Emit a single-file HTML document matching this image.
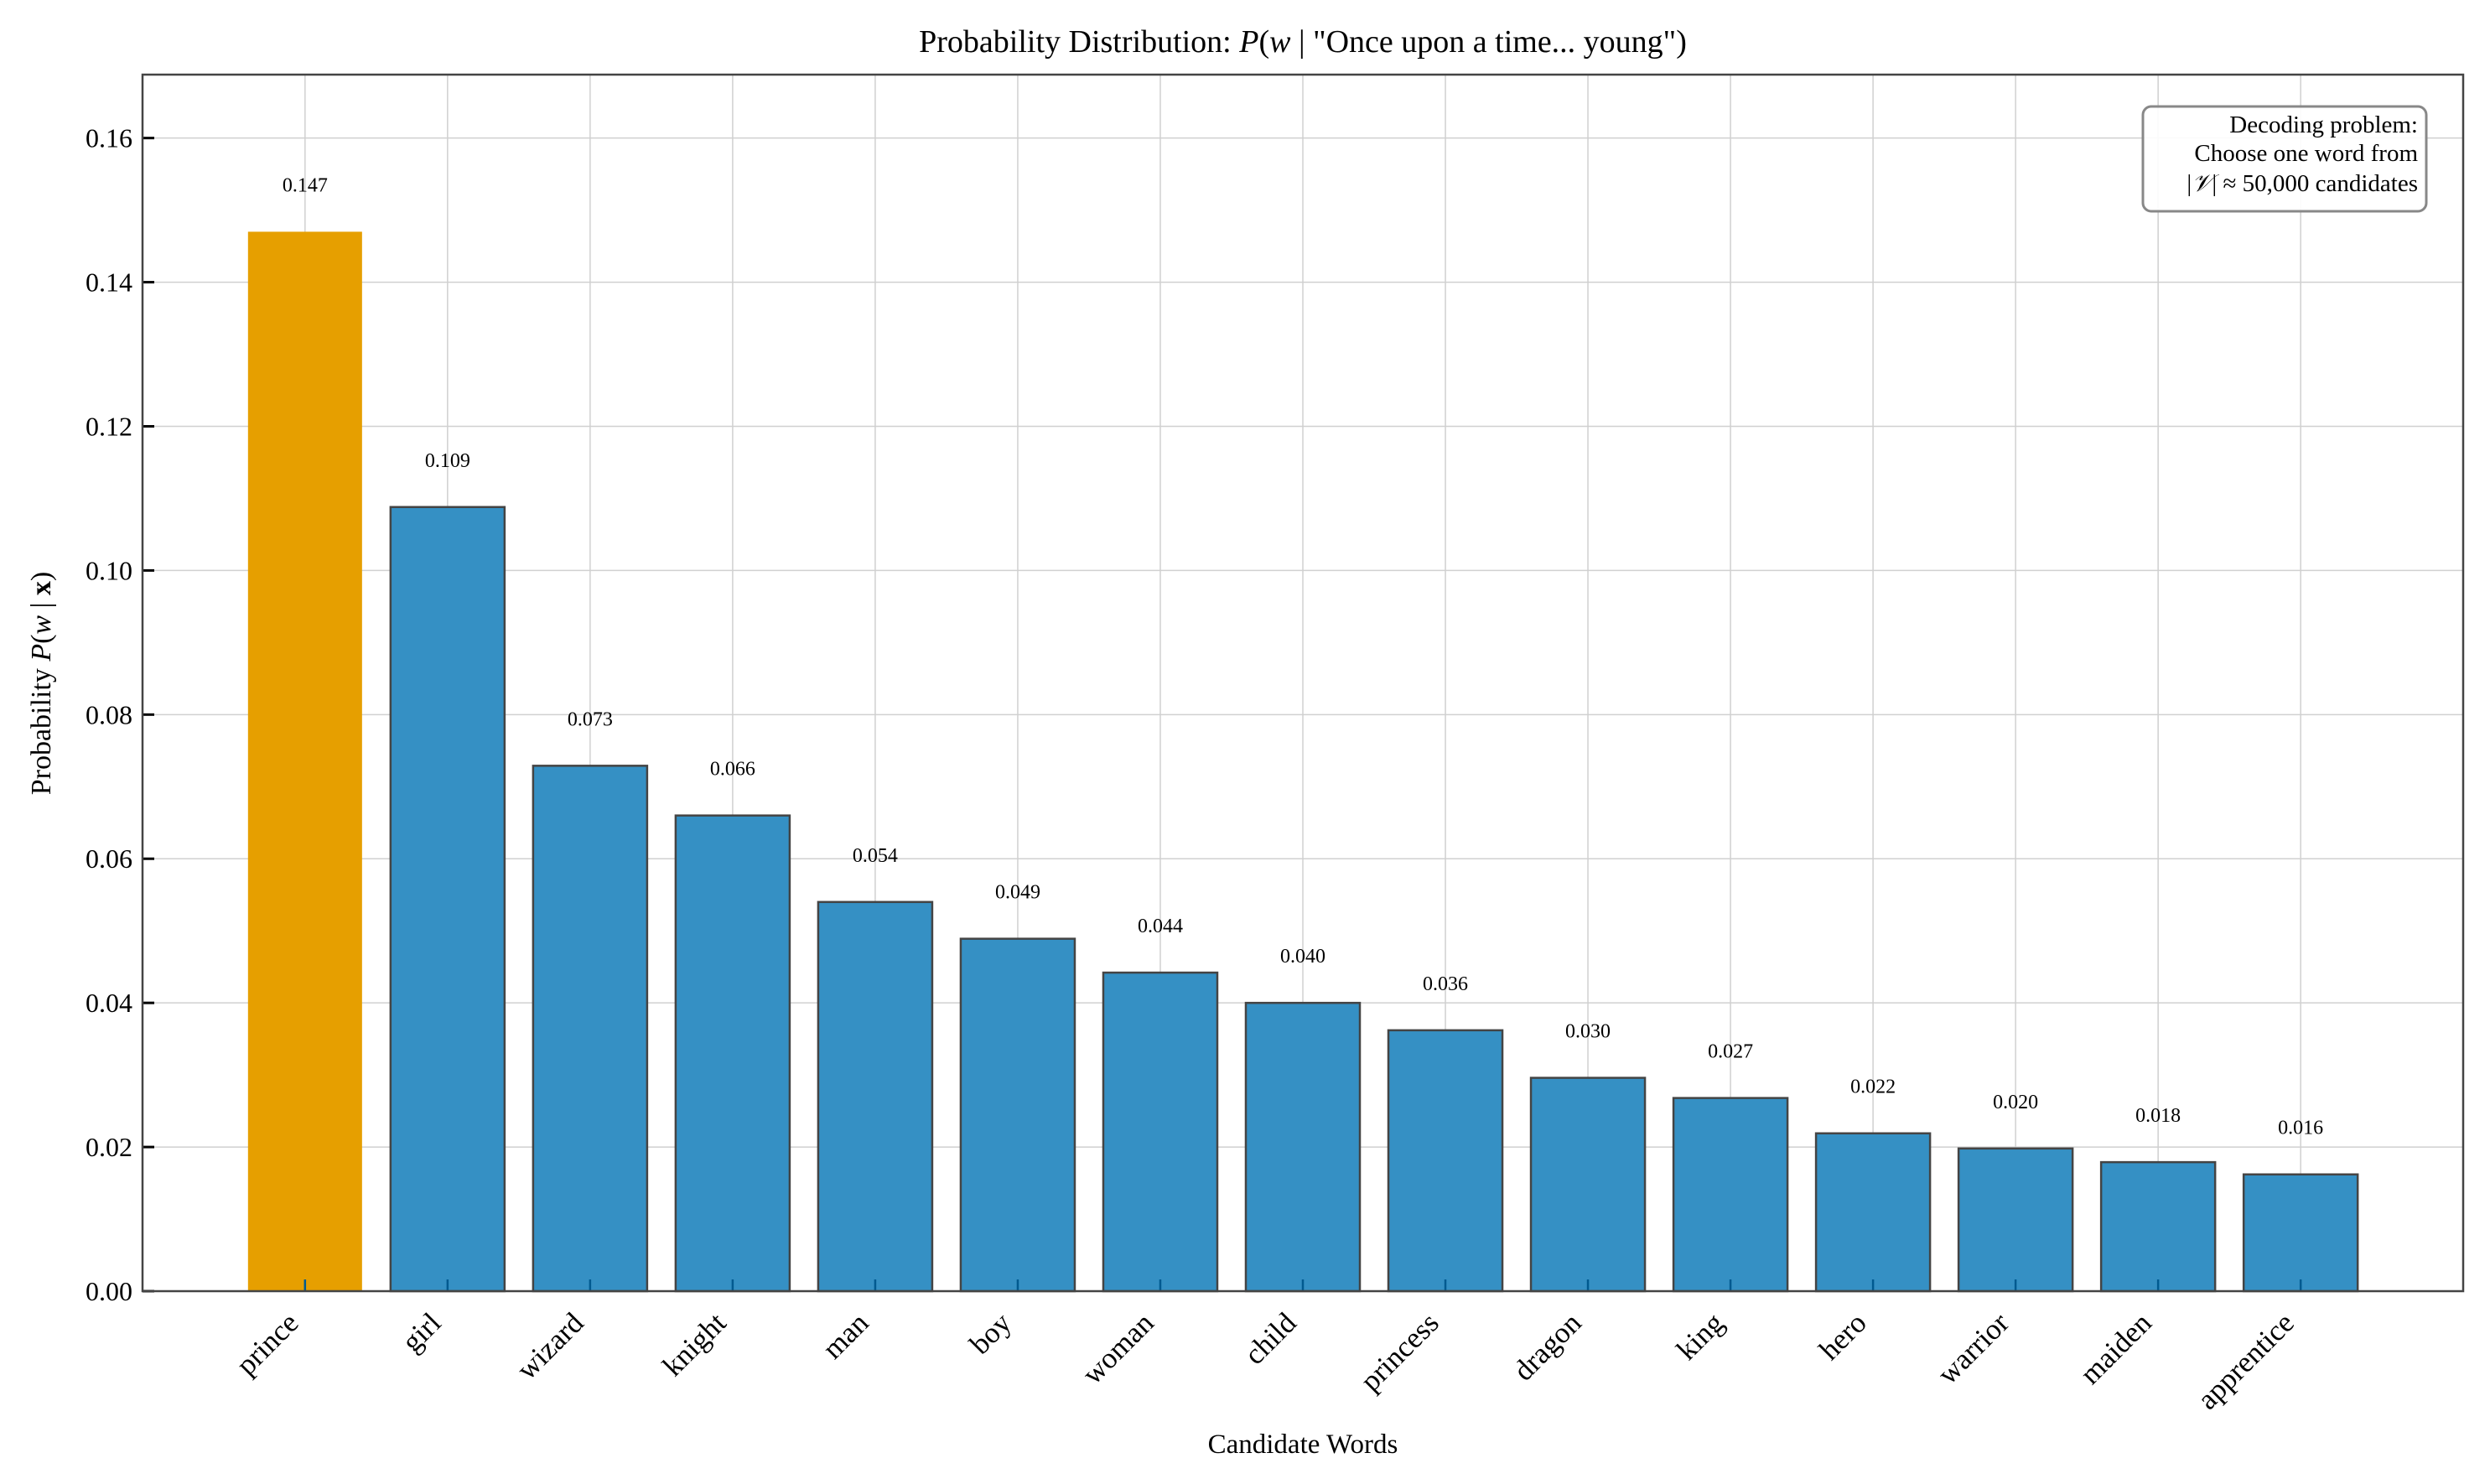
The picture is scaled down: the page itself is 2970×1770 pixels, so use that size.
<!DOCTYPE html>
<html><head><meta charset="utf-8">
<style>
html,body{margin:0;padding:0;background:#fff;}
svg{display:block;font-family:"Liberation Serif",serif;}
</style></head>
<body>
<svg id="chart" width="2970" height="1770" viewBox="0 0 2970 1770" xmlns="http://www.w3.org/2000/svg">
<rect x="0" y="0" width="2970" height="1770" fill="#fff"/>
<g id="grid"></g>
<g id="bars"></g>
<g id="labels"></g>
<g id="ticks"></g>
<rect x="170" y="89" width="2768" height="1451" fill="none" stroke="#444" stroke-width="2.5"/>
<text x="1554" y="62" font-size="38" text-anchor="middle">Probability Distribution: <tspan font-style="italic">P</tspan>(<tspan font-style="italic">w</tspan> |  "Once upon a time... young")</text>
<text x="1554" y="1733" font-size="33" text-anchor="middle">Candidate Words</text>
<text transform="translate(60,815) rotate(-90)" font-size="34" text-anchor="middle">Probability <tspan font-style="italic">P</tspan>(<tspan font-style="italic">w</tspan> | <tspan font-weight="bold">x</tspan>)</text>
<g>
<rect x="2556" y="127" width="338" height="125" rx="10" fill="#fff" fill-opacity="0.9" stroke="#888" stroke-width="3"/>
<text x="2884" y="158" font-size="29" text-anchor="end">Decoding problem:</text>
<text x="2884" y="192" font-size="29" text-anchor="end">Choose one word from</text>
<text x="2884" y="228" font-size="29" text-anchor="end">|<tspan font-style="italic">𝒱</tspan>| ≈ 50,000 candidates</text>
</g>
</svg>
<script>
const categories = ["prince","girl","wizard","knight","man","boy","woman","child","princess","dragon","king","hero","warrior","maiden","apprentice"];
const values = [0.147,0.1088,0.0729,0.0660,0.0540,0.0489,0.0442,0.0400,0.0362,0.0296,0.0268,0.0219,0.0198,0.0179,0.0162];
const yTicks = [0,0.02,0.04,0.06,0.08,0.10,0.12,0.14,0.16];
const yTickLabels = ["0.00","0.02","0.04","0.06","0.08","0.10","0.12","0.14","0.16"];

const NS="http://www.w3.org/2000/svg";
const L=170,R=2938,T=89,B=1540;
const xMin=-1.14,xMax=categories.length-1+1.14,yMax=0.1688;
function xs(i){return L+(i-xMin)/(xMax-xMin)*(R-L);}
function ys(v){return B-v/yMax*(B-T);}
function mk(tag,attrs,parent){const e=document.createElementNS(NS,tag);for(const k in attrs)e.setAttribute(k,attrs[k]);parent.appendChild(e);return e;}
const grid=document.getElementById('grid'),bars=document.getElementById('bars'),labels=document.getElementById('labels'),ticks=document.getElementById('ticks');
const bw=(xs(1)-xs(0))*0.8;
yTicks.forEach((t,k)=>{
  const y=ys(t);
  const g=mk('line',{x1:L,x2:R,y1:y,y2:y,stroke:'#d0d0d0','stroke-width':1.5},grid);
  
  
  const tk=mk('line',{x1:L,x2:L+14,y1:y,y2:y,stroke:'#000','stroke-width':3},ticks);
  
  
  const tl=mk('text',{x:L-12,y:y+11,'font-size':32,'text-anchor':'end'},ticks);
  tl.textContent=yTickLabels[k];
  
  
});
categories.forEach((c,i)=>{
  const x=xs(i);
  const g=mk('line',{x1:x,x2:x,y1:T,y2:B,stroke:'#d0d0d0','stroke-width':1.5},grid);
  
  
  const v=values[i];
  const attrs={x:x-bw/2,y:ys(v),width:bw,height:B-ys(v)};
  if(i===0){attrs.fill='#E69F00';}else{attrs.fill='#3590c4';attrs.stroke='#444';attrs['stroke-width']=2.5;}
  const r=mk('rect',attrs,bars);
  
  
  const tk=mk('line',{x1:x,x2:x,y1:B,y2:B-14,stroke:'#005a90','stroke-width':2.5},ticks);
  
  
  const vl=mk('text',{x:x,y:ys(v)-48,'font-size':24,'text-anchor':'middle'},labels);
  vl.textContent=v.toFixed(3);
  
  
  const ax=x-6, ay=B+40;
  const tl=mk('text',{x:ax,y:ay,'font-size':35,'text-anchor':'end',transform:'rotate(-45 '+ax+' '+ay+')'},ticks);
  tl.textContent=c;
  
  
});
</script>
</body></html>
